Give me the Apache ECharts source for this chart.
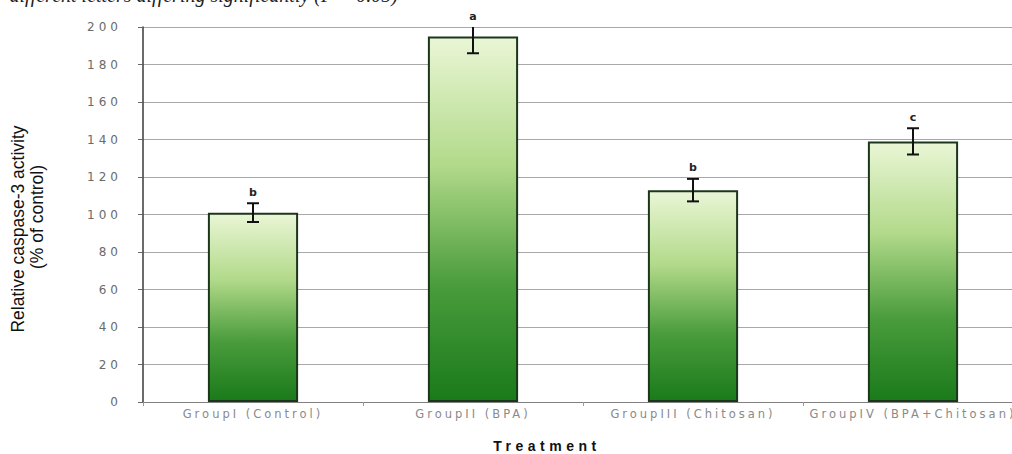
<!DOCTYPE html>
<html>
<head>
<meta charset="utf-8">
<script src="https://cdn.jsdelivr.net/npm/echarts@6/dist/echarts.min.js"></script>
<style>
  html, body { margin: 0; padding: 0; background: #fff; overflow: hidden; width: 1012px; height: 454px; }
  /* the plot runs a little past the right edge of the page */
  #chart { width: 1023px; height: 454px; }
  /* wide, airy lettering for the axis texts */
  #chart text[style*="Verdana"] { letter-spacing: 3px; }
  #chart text[style*="Tahoma"] { letter-spacing: 4px; }
  #chart text[style*="Arial Black"] { letter-spacing: 4.5px; }
</style>
</head>
<body>
<div id="chart"></div>
<script>
// Caspase-3 activity per treatment group
const categories = ['GroupI (Control)', 'GroupII (BPA)', 'GroupIII (Chitosan)', 'GroupIV (BPA+Chitosan)'];
const meanValues = [101, 195, 113, 139];
const errorValues = [5, 9, 6, 7];
const groupLetters = ['b', 'a', 'b', 'c'];
const yMin = 0;
const yMax = 200;
const yStep = 20;

const chart = echarts.init(document.getElementById('chart'), null, { renderer: 'svg' });

const barGradient = new echarts.graphic.LinearGradient(0, 0, 0, 1, [
  { offset: 0, color: '#eaf6d6' },
  { offset: 0.35, color: '#b2da8a' },
  { offset: 0.68, color: '#4a9c3c' },
  { offset: 1, color: '#1a7a1a' }
]);

const errorData = categories.map((c, i) => [i, meanValues[i] - errorValues[i], meanValues[i] + errorValues[i]]);
const letterData = categories.map((c, i) => [i, Math.min(meanValues[i] + errorValues[i], yMax), groupLetters[i]]);

chart.setOption({
  animation: false,
  backgroundColor: '#fff',
  grid: { left: 143, right: 0, top: 27, bottom: 52 },
  xAxis: {
    type: 'category',
    data: categories,
    boundaryGap: true,
    axisLine: { lineStyle: { color: '#808080', width: 1 } },
    axisTick: { show: true, length: 4, lineStyle: { color: '#999' } },
    axisLabel: {
      color: '#8a8a8a', fontSize: 11.5, margin: 6,
      fontFamily: 'Verdana, DejaVu Sans'
    },
    splitLine: { show: false }
  },
  yAxis: {
    type: 'value',
    min: yMin, max: yMax, interval: yStep,
    axisLine: { show: true, lineStyle: { color: '#3a3a3a', width: 1.5 } },
    axisTick: { show: true, length: 5, lineStyle: { color: '#666' } },
    axisLabel: {
      color: '#6a6a6a', fontSize: 12, margin: 21,
      fontFamily: 'Tahoma, DejaVu Sans'
    },
    splitLine: { lineStyle: { color: '#a8a8a8', width: 1 } }
  },
  graphic: [
    {
      type: 'text', x: 398, y: 5,
      style: {
        text: 'different letters differing significantly (P < 0.05)',
        font: 'italic 20px "Liberation Serif", serif',
        fill: '#222', textAlign: 'right', textVerticalAlign: 'bottom'
      }
    },
    {
      type: 'text', x: 18, y: 229, rotation: Math.PI / 2,
      style: {
        text: 'Relative caspase-3 activity',
        font: '17.5px "Liberation Sans Narrow", "Liberation Sans", sans-serif',
        fill: '#111', textAlign: 'center', textVerticalAlign: 'middle'
      }
    },
    {
      type: 'text', x: 37, y: 217, rotation: Math.PI / 2,
      style: {
        text: '(% of control)',
        font: '17.5px "Liberation Sans Narrow", "Liberation Sans", sans-serif',
        fill: '#111', textAlign: 'center', textVerticalAlign: 'middle'
      }
    },
    {
      type: 'text', x: 547, y: 446,
      style: {
        text: 'Treatment',
        font: 'bold 14px "Arial Black", "Liberation Sans", sans-serif',
        fill: '#111', textAlign: 'center', textVerticalAlign: 'middle'
      }
    }
  ],
  series: [
    {
      type: 'bar',
      data: meanValues,
      barWidth: '41%',
      itemStyle: { color: barGradient, borderColor: '#1c361c', borderWidth: 2 }
    },
    {
      type: 'custom',
      clip: true,
      data: errorData,
      z: 5,
      renderItem: function (params, api) {
        const x = api.coord([api.value(0), 0])[0];
        const lo = api.coord([api.value(0), api.value(1)])[1];
        const hi = api.coord([api.value(0), api.value(2)])[1];
        const w = 6;
        const st = { stroke: '#111', lineWidth: 2 };
        return {
          type: 'group',
          children: [
            { type: 'line', shape: { x1: x, y1: lo, x2: x, y2: hi }, style: st },
            { type: 'line', shape: { x1: x - w, y1: lo, x2: x + w, y2: lo }, style: st },
            { type: 'line', shape: { x1: x - w, y1: hi, x2: x + w, y2: hi }, style: st }
          ]
        };
      }
    },
    {
      type: 'custom',
      data: letterData,
      z: 6,
      renderItem: function (params, api) {
        const p = api.coord([api.value(0), api.value(1)]);
        return {
          type: 'text',
          x: p[0], y: p[1] - 11,
          style: {
            text: groupLetters[params.dataIndex],
            font: 'bold 11px "DejaVu Sans", sans-serif',
            fill: '#222', textAlign: 'center', textVerticalAlign: 'middle'
          }
        };
      }
    }
  ]
});
</script>
</body>
</html>
